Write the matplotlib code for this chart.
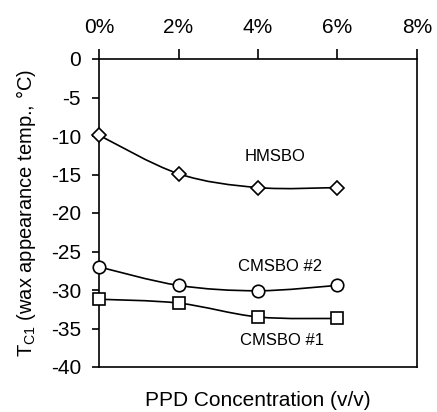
import matplotlib.pyplot as plt
from matplotlib.path import Path
from matplotlib.patches import PathPatch

plt.rcParams['font.family'] = ['Liberation Sans', 'DejaVu Sans']

# PPD concentration (%) and wax appearance temperature (°C)
ppd = [0, 2, 4, 6]
hmsbo = [-9.9, -14.9, -16.7, -16.7]
cmsbo2 = [-27.0, -29.4, -30.1, -29.4]
cmsbo1 = [-31.2, -31.7, -33.5, -33.7]

x_ticks = [0, 2, 4, 6, 8]
x_labels = ['0%', '2%', '4%', '6%', '8%']
y_ticks = [0, -5, -10, -15, -20, -25, -30, -35, -40]


def smooth_path(xs, ys):
    # Bezier path through the points (like a spreadsheet "smoothed line")
    verts = [(xs[0], ys[0])]
    codes = [Path.MOVETO]
    n = len(xs)
    for i in range(n - 1):
        x0, y0 = (xs[i - 1], ys[i - 1]) if i > 0 else (xs[i], ys[i])
        x1, y1 = xs[i], ys[i]
        x2, y2 = xs[i + 1], ys[i + 1]
        x3, y3 = (xs[i + 2], ys[i + 2]) if i + 2 < n else (x2, y2)
        c1 = (x1 + (x2 - x0) / 6, y1 + (y2 - y0) / 6)
        c2 = (x2 - (x3 - x1) / 6, y2 - (y3 - y1) / 6)
        verts += [c1, c2, (x2, y2)]
        codes += [Path.CURVE4] * 3
    return Path(verts, codes)


fig = plt.figure(figsize=(4.37, 4.12), dpi=100)
ax = fig.add_axes([99 / 437, 1 - 367 / 412, 318 / 437, 308 / 412])

for ys in (hmsbo, cmsbo2, cmsbo1):
    ax.add_patch(PathPatch(smooth_path(ppd, ys), fill=False, lw=1.2, color='black', zorder=2))

ax.plot(ppd, hmsbo, ls='none', marker='D', ms=7, mfc='white', mec='black', mew=1.2, zorder=3, clip_on=False)
ax.plot(ppd, cmsbo2, ls='none', marker='o', ms=9, mfc='white', mec='black', mew=1.2, zorder=3, clip_on=False)
ax.plot(ppd, cmsbo1, ls='none', marker='s', ms=9, mfc='white', mec='black', mew=1.2, zorder=3, clip_on=False)

ax.text(4.43, -12.6, 'HMSBO', fontsize=12, ha='center', va='center')
ax.text(4.55, -27.0, 'CMSBO #2', fontsize=12, ha='center', va='center')
ax.text(4.6, -36.5, 'CMSBO #1', fontsize=12, ha='center', va='center')

ax.set_xlim(0, 8)
ax.set_ylim(-40, 0)
ax.set_xticks(x_ticks)
ax.set_xticklabels(x_labels)
ax.set_yticks(y_ticks)
ax.set_yticklabels([str(v) for v in y_ticks])
ax.xaxis.tick_top()
ax.tick_params(axis='x', direction='out', length=7, width=1.2, labelsize=15, pad=9)
ax.tick_params(axis='y', direction='out', length=5, width=1.2, labelsize=15, pad=8)
for s in ax.spines.values():
    s.set_linewidth(1.2)

ax.set_ylabel(r'T$_{\mathregular{C1}}$ (wax appearance temp., °C)', fontsize=14.5, labelpad=9)
fig.text(258 / 437, 1 - 400 / 412, 'PPD Concentration (v/v)', fontsize=15, ha='center', va='center')

fig.savefig('out.png', dpi=100)
